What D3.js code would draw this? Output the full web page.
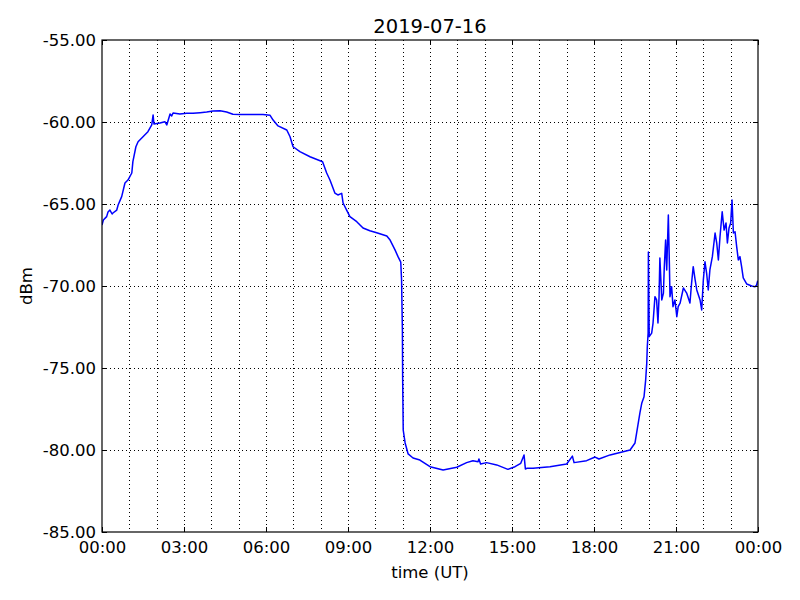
<!DOCTYPE html>
<html><head><meta charset="utf-8">
<script src="https://cdn.jsdelivr.net/npm/d3@7"></script>
<style>body{margin:0;background:#fff}svg{display:block}text{font-family:"DejaVu Sans",sans-serif;fill:#000}</style>
</head><body>
<script>
const title = "2019-07-16";
const xLabel = "time (UT)";
const yLabel = "dBm";
const xTickHours = [0, 3, 6, 9, 12, 15, 18, 21, 24];
const xTickLabels = ["00:00","03:00","06:00","09:00","12:00","15:00","18:00","21:00","00:00"];
const yTicks = [-85, -80, -75, -70, -65, -60, -55];
const yTickLabels = ["-85.00","-80.00","-75.00","-70.00","-65.00","-60.00","-55.00"];
// time in hours UT
const hours = [0.00,0.05,0.17,0.22,0.29,0.37,0.40,0.54,0.59,0.72,0.84,0.95,1.09,1.13,1.24,1.32,1.50,1.68,1.82,1.87,1.90,2.12,2.30,2.37,2.49,2.55,2.60,2.85,3.10,3.33,3.59,3.83,4.06,4.32,4.56,4.79,5.05,5.89,6.15,6.26,6.44,6.76,6.88,6.99,7.24,7.61,8.07,8.22,8.34,8.52,8.63,8.77,8.82,8.95,9.07,9.32,9.55,9.80,10.05,10.42,10.54,10.72,10.83,10.93,10.96,10.99,11.00,11.02,11.09,11.20,11.38,11.63,12.00,12.48,12.98,13.34,13.57,13.76,13.79,13.85,14.07,14.44,14.85,15.11,15.32,15.44,15.49,15.54,15.77,16.39,17.00,17.21,17.27,17.73,18.04,18.18,18.59,19.32,19.50,19.56,19.68,19.75,19.83,19.89,19.93,19.95,19.98,19.99,20.02,20.11,20.16,20.23,20.29,20.34,20.38,20.41,20.48,20.54,20.57,20.62,20.66,20.72,20.76,20.78,20.84,20.89,20.96,21.03,21.08,21.15,21.27,21.39,21.51,21.57,21.63,21.70,21.76,21.88,21.94,22.00,22.06,22.12,22.18,22.24,22.33,22.43,22.49,22.55,22.61,22.69,22.76,22.83,22.88,22.94,23.00,23.05,23.10,23.16,23.22,23.28,23.34,23.40,23.46,23.59,23.77,23.89,23.95,23.99];
const dbm = [-66.28,-65.98,-65.77,-65.49,-65.37,-65.61,-65.55,-65.37,-65.06,-64.55,-63.72,-63.54,-63.11,-62.42,-61.51,-61.20,-60.90,-60.59,-60.18,-59.57,-60.12,-60.06,-59.98,-60.18,-59.51,-59.63,-59.45,-59.51,-59.47,-59.47,-59.43,-59.39,-59.33,-59.31,-59.39,-59.53,-59.55,-59.55,-59.59,-59.88,-60.24,-60.49,-60.90,-61.51,-61.81,-62.12,-62.42,-63.11,-63.54,-64.33,-64.45,-64.35,-64.94,-65.37,-65.77,-66.08,-66.46,-66.63,-66.75,-66.95,-67.20,-67.80,-68.21,-68.54,-69.63,-72.68,-75.73,-78.78,-79.57,-80.24,-80.49,-80.61,-81.02,-81.22,-81.05,-80.77,-80.65,-80.71,-80.55,-80.85,-80.77,-80.91,-81.18,-81.02,-80.81,-80.30,-81.16,-81.12,-81.12,-81.02,-80.85,-80.37,-80.77,-80.65,-80.43,-80.55,-80.30,-80.00,-79.57,-78.96,-77.74,-77.13,-76.75,-75.73,-74.70,-73.70,-72.87,-67.93,-73.09,-72.87,-72.26,-70.65,-70.85,-72.26,-70.65,-68.29,-70.85,-70.43,-68.90,-67.20,-69.02,-65.67,-68.82,-70.65,-70.04,-71.26,-70.85,-71.87,-71.26,-71.04,-70.12,-70.43,-71.04,-69.82,-68.82,-69.63,-70.24,-70.85,-71.46,-69.63,-68.52,-69.21,-70.24,-69.02,-68.21,-66.77,-67.38,-68.41,-66.99,-65.47,-66.59,-66.16,-67.38,-66.46,-66.16,-64.76,-66.77,-66.69,-67.60,-68.41,-68.21,-68.82,-69.51,-69.88,-70.00,-70.04,-69.94,-69.68];

const W = 800, H = 600;
const L = 102, R = 758, T = 40, B = 532;
const svg = d3.select("body").append("svg").attr("width", W).attr("height", H);
const x = d3.scaleLinear().domain([0, 24]).range([L, R]);
const y = d3.scaleLinear().domain([-85, -55]).range([B, T]);

// grid
const gridHours = d3.range(1, 24);
svg.append("g").selectAll("line").data(gridHours).join("line")
  .attr("x1", d => Math.round(x(d)) + 0.5).attr("x2", d => Math.round(x(d)) + 0.5)
  .attr("y1", T).attr("y2", B)
  .attr("stroke", "#000").attr("stroke-width", 1).attr("stroke-dasharray", "1,3");
svg.append("g").selectAll("line").data(yTicks.slice(1, -1)).join("line")
  .attr("y1", d => Math.round(y(d)) + 0.5).attr("y2", d => Math.round(y(d)) + 0.5)
  .attr("x1", L).attr("x2", R)
  .attr("stroke", "#000").attr("stroke-width", 1).attr("stroke-dasharray", "1,3");

// data line
svg.append("clipPath").attr("id", "clip").append("rect").attr("x", L).attr("y", T).attr("width", R - L).attr("height", B - T);
const pts = hours.map((h, i) => [h, dbm[i]]);
svg.append("path").datum(pts)
  .attr("clip-path", "url(#clip)")
  .attr("fill", "none").attr("stroke", "#0000ff").attr("stroke-width", 1.5)
  .attr("stroke-linejoin", "round")
  .attr("d", d3.line().x(d => x(d[0])).y(d => y(d[1])));

// axes with inward ticks
const xb = svg.append("g").attr("transform", `translate(0,${B})`)
  .call(d3.axisBottom(x).tickValues(xTickHours).tickFormat((d, i) => xTickLabels[i]).tickSizeInner(-5).tickSizeOuter(0).tickPadding(9));
const xt = svg.append("g").attr("transform", `translate(0,${T})`)
  .call(d3.axisTop(x).tickValues(xTickHours).tickFormat("").tickSizeInner(-5).tickSizeOuter(0));
const yl = svg.append("g").attr("transform", `translate(${L},0)`)
  .call(d3.axisLeft(y).tickValues(yTicks).tickFormat((d, i) => yTickLabels[i]).tickSizeInner(-5).tickSizeOuter(0).tickPadding(6));
const yr = svg.append("g").attr("transform", `translate(${R},0)`)
  .call(d3.axisRight(y).tickValues(yTicks).tickFormat("").tickSizeInner(-5).tickSizeOuter(0));
[xb, xt, yl, yr].forEach(g => {
  g.select(".domain").remove();
  g.selectAll("line").attr("stroke", "#000");
  g.selectAll("text").attr("font-family", "DejaVu Sans").attr("font-size", 16.5).attr("fill", "#000");
});
xb.selectAll("text").attr("dy", "0.71em");
yl.selectAll("text").attr("dy", "0.36em");

// frame
svg.append("rect").attr("x", L).attr("y", T).attr("width", R - L).attr("height", B - T)
  .attr("fill", "none").attr("stroke", "#000").attr("stroke-width", 1.2);

svg.append("text").attr("x", (L + R) / 2).attr("y", 33).attr("text-anchor", "middle")
  .attr("font-size", 19.5).text(title);
svg.append("text").attr("x", (L + R) / 2).attr("y", 578).attr("text-anchor", "middle")
  .attr("font-size", 16.5).text(xLabel);
svg.append("text").attr("transform", `translate(32,${(T + B) / 2}) rotate(-90)`).attr("text-anchor", "middle")
  .attr("font-size", 16.5).text(yLabel);
</script>
</body></html>
